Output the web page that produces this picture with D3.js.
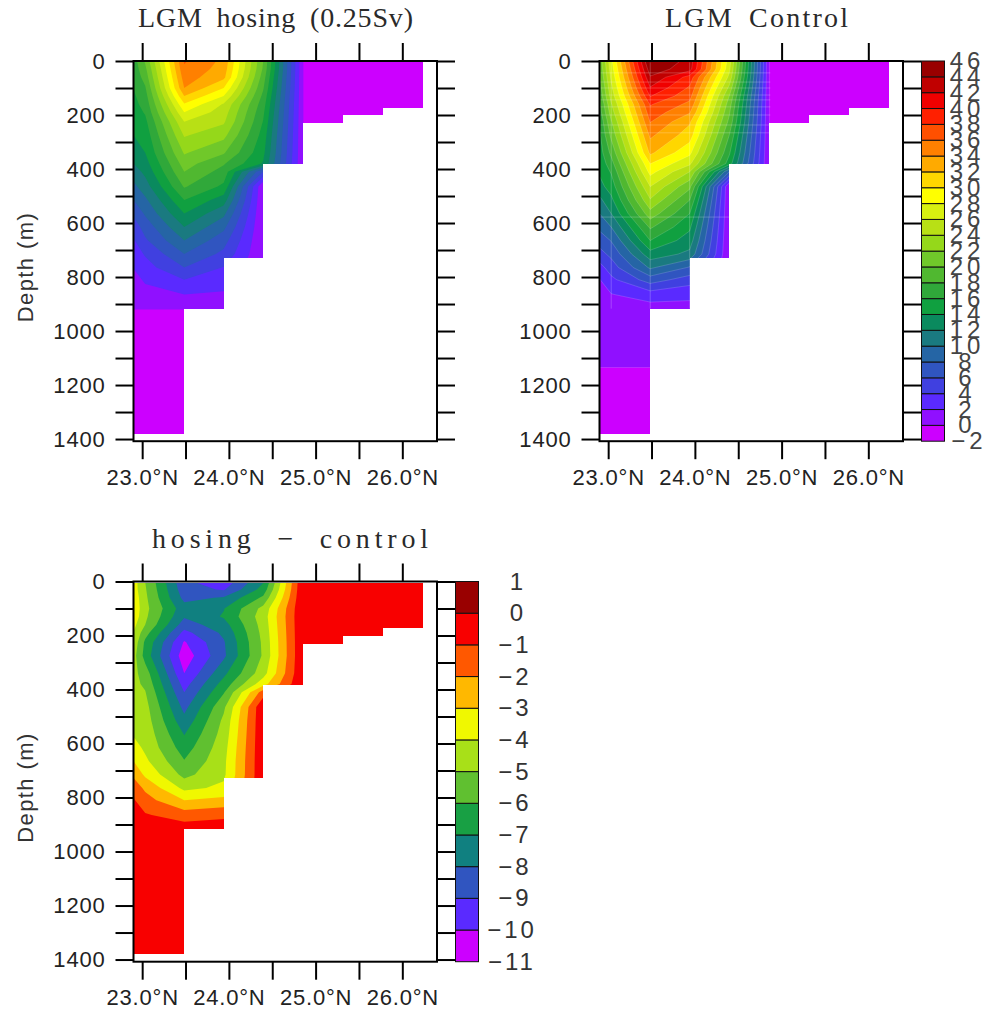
<!DOCTYPE html>
<html><head><meta charset="utf-8"><title>LGM hosing sections</title>
<script src="https://cdn.jsdelivr.net/npm/d3@7"></script>
<style>
html,body{margin:0;padding:0;background:#fff}
svg{display:block}
text{font-family:"Liberation Sans",sans-serif;fill:#222}
.title{font-family:"Liberation Serif",serif;font-size:28px;fill:#2a2a2a}
.lab{font-size:22px;letter-spacing:.8px}
.ylab{font-size:22px;letter-spacing:1.4px;fill:#333}
.cb{font-size:24px;letter-spacing:4px;fill:#444}
.cb3{font-size:24px;letter-spacing:3px;fill:#333}
</style></head><body><svg id="c" width="989" height="1017"></svg>
<script>
// grid nodes
const lonNodes=[22.9,23.035,23.485,23.94,24.396,24.858,24.87,26.4];
const depthNodes=[0,30,60,100,130,160,190,225,275,340,380,410,465,515,565,615,665,715,765,810,865,915,925,1130,1140,1410];
// ocean mask outline (lon edge, bottom depth of the column to its left)
const maskLon=[22.902,23.485,23.943,24.396,24.858,25.319,25.78,26.242];
const maskDepth=[1380,917,729,383,230,200,174];
const maskTop=5;
// LGM hosing: one array per longitude node
const hosing0=[17,16.8,16.5,16,15.7,15.4,15,14.5,14,13,12,11,9.5,8,6.3,5,3.8,3,2.05,1.5,1.2,1,-1,-1,-1,-1];
const hosing1=[20.3,19.5,18.8,17.8,17.2,16.7,16.2,15.5,14.8,14,13.2,12.5,11.1,9.6,8.3,6.8,5.7,4.2,3.2,2.2,1.5,1,-1,-1,-1,-1];
const hosing2=[36.2,35.7,35,34,32,29.8,28,26,24.2,22.2,20.9,20,18.2,16,14,12,10,8,6,4,2,1,-1,-1,-1,-1];
const hosing3=[33.5,33.1,32.5,30,28,25.8,25,24.3,22.6,20.2,18.2,17.2,15.6,13,10.5,8.5,6.8,5.5,3.9,3,1.7,1,1,-1,-1,-1];
const hosing4=[20,19.7,19,18.2,17.5,16.9,16.4,15.9,15.2,14.5,13.8,6,.1,.1,.1,.1,.1,.1,.1,.1,.1,.1,-1,-1,-1,-1];
const hosing5=[.1,.1,.1,.1,.1,.1,.1,.1,.1,.1,.1,.1,.1,.1,.1,.1,.1,.1,.1,.1,.1,.1,-1,-1,-1,-1];
const hosing6=depthNodes.map(()=>-1), hosing7=depthNodes.map(()=>-1);
// LGM control
const control0=[20.5,20.2,19.8,19,18.5,17.6,17,16.2,15.6,15,14.5,14.3,13.3,11.5,10,8.5,6.8,5.3,3.2,1.9,1.4,1.2,1.2,1,-1,-1];
const control1=[27.5,27,26.4,25.5,24.8,23.8,23,21.8,20.5,18.5,17.2,16.2,14.9,13.5,12,10,8.1,6.5,5,3.5,1.9,1.5,1.2,1,-1,-1];
const control2=[46.5,45.2,43.8,41.8,40.1,38.2,37.2,36.1,34.4,32.4,30.05,28.7,26,23.8,21.2,18.3,16,13.2,10.3,7,3,1.2,1.2,1,-1,-1];
const control3=[43.2,42.8,39.2,37.7,36.7,35.5,34.2,32.3,31,28.5,26.4,24,20.5,18,16,14.4,13,11.5,7.8,5,2.4,1.5,1.5,-1,-1,-1];
const control4=[27,26.5,25.5,23.5,22,21,20.3,19.5,18,16.3,15,8,.1,.1,.1,.1,.1,.1,.1,.1,.1,.1,-1,-1,-1,-1];
const control5=[.1,.1,.1,.1,.1,.1,.1,.1,.1,.1,.1,.1,.1,.1,.1,.1,.1,.1,.1,.1,.1,.1,-1,-1,-1,-1];
const control6=depthNodes.map(()=>-1), control7=depthNodes.map(()=>-1);
// hosing - control
const diff0=[-3.5,-3.5,-3.3,-3.2,-3.3,-3.7,-4.05,-4.3,-4.6,-4.7,-4.7,-4.6,-4.5,-4.4,-4.1,-3.6,-3,-2.2,-1.4,-.9,-.7,-.5,-.5,-.5,-.5,-.5];
const diff1=[-5,-4.9,-4.8,-4.7,-4.8,-5,-5.6,-6.2,-6.4,-5.5,-5.2,-4.95,-4.65,-4.5,-4.35,-4.2,-3.8,-3.2,-2.2,-1.6,-.9,-.5,-.5,-.5,-.5,-.5];
const diff2=[-8.8,-8.6,-8.3,-7.6,-7.9,-8.5,-9.3,-10.1,-10.6,-10,-9.4,-9,-8.3,-7.7,-7.05,-6.5,-5.95,-5.3,-4.25,-3,-1.5,-.5,-.5,-.5,-.5,-.5];
const diff3=[-9.7,-9.1,-7.9,-7.05,-6.9,-7.4,-7.8,-8.1,-8.2,-7.25,-6.6,-6.1,-5.2,-4.8,-4.6,-4.4,-4.25,-4.2,-3.8,-2.7,-1.2,-.5,-.5,-.5,-.5,-.5];
const diff4=[-7.1,-6.6,-5.8,-4.7,-4.5,-4.6,-4.7,-4.8,-4.85,-4.4,-3.4,-1.5,-.1,-.1,-.1,-.1,-.1,-.1,-.1,-.1,-.1,-.1,-.1,-.1,-.1,-.1];
const diff5=depthNodes.map(()=>0), diff6=depthNodes.map(()=>-.5), diff7=depthNodes.map(()=>-.5);
// levels and colours
const levelsMain=d3.range(-2,47,2);
const colorsMain=["#cc00ff","#9010ff","#5a2aff","#4040e0","#3055c0","#2565a5","#1a7a80","#0a8a5e","#10a040","#30a83a","#50b830","#70c82a","#95d81a","#b8e015","#d8f010","#ffff00","#ffd700","#ffaa00","#ff8000","#ff5000","#ff2000","#f00000","#c00000","#990000"];
const levelsDiff=d3.range(-11,2,1);
const colorsDiff=["#cc00ff","#5a2aff","#3055c0","#108080","#18a044","#60c030","#a8e018","#f0f800","#ffb800","#ff5800","#f80000","#990000"];
const lonTicks=d3.range(23,26.01,.5), lonLabels=[23,24,25,26];
const depthTicks=d3.range(0,1401,100);
const seamDepths=[44,78,100,126,144,170,200,237,266,578];
const seamLons=[23.035,23.485,23.94];
const titles=["LGM hosing (0.25Sv)","LGM Control","hosing \u2212 control"];

const svg=d3.select("#c");
const n=lonNodes.length,m=depthNodes.length;
function flat(cols){const v=[];for(let j=0;j<m;j++)for(let i=0;i<n;i++)v.push(cols[i][j]);return v;}
const fmtMinus=d=>String(d).replace("-","\u2212");
function panel(o){
  const W=303.5,H=380.2;
  const x=d3.scaleLinear().domain([22.9,26.4]).range([o.left,o.left+W]);
  const y=d3.scaleLinear().domain([0,1408]).range([o.top,o.top+H]);
  const g=svg.append("g");
  const fill=g.append("g");
  const xi=d3.scaleLinear().domain(d3.range(n)).range(lonNodes.map(x)).clamp(true);
  const yi=d3.scaleLinear().domain(d3.range(m)).range(depthNodes.map(y)).clamp(true);
  const path=d3.geoPath(d3.geoTransform({point(a,b){this.stream.point(xi(a-.5),yi(b-.5));}}));
  const th=o.levels.slice(0,-1);
  const cs=d3.contours().size([n,m]).thresholds(th)(flat(o.cols));
  fill.append("rect").attr("x",o.left).attr("y",o.top).attr("width",W).attr("height",H).attr("fill",o.colors[0]);
  fill.selectAll("path").data(cs).join("path").attr("d",path)
    .attr("fill",(d,i)=>o.colors[i])
    .attr("stroke",(d,i)=>o.seam&&i>0?"rgba(255,255,255,.22)":"none").attr("stroke-width",.7);
  if(o.seam){
    fill.selectAll("line.h").data(seamDepths).join("line").attr("class","h")
      .attr("x1",o.left).attr("x2",x(24.87)).attr("y1",d=>y(d)).attr("y2",d=>y(d)).attr("stroke","rgba(255,255,255,.22)");
    fill.selectAll("line.v").data(seamLons).join("line").attr("class","v")
      .attr("x1",d=>x(d)).attr("x2",d=>x(d)).attr("y1",y(5)).attr("y2",y(917)).attr("stroke","rgba(255,255,255,.22)");
  }
  // land mask: white cover over everything outside the ocean outline
  const pts=[[maskLon[0],maskTop],[maskLon[7],maskTop]];
  for(let k=6;k>=0;k--){pts.push([maskLon[k+1],maskDepth[k]]);pts.push([maskLon[k],maskDepth[k]]);}
  const ocean=d3.line().x(p=>Math.round(x(p[0]))).y(p=>Math.round(y(p[1])))(pts)+"Z";
  g.append("path").attr("d",`M${o.left-1},${o.top-1}H${o.left+W+1}V${o.top+H+1}H${o.left-1}Z`+ocean)
    .attr("fill","#fff").attr("fill-rule","evenodd").attr("shape-rendering","crispEdges");
  // axes
  const style=s=>{s.select(".domain").remove();s.selectAll(".tick line").attr("stroke","#000").attr("stroke-width",2);s.selectAll("text").attr("fill",null);};
  const lonFmt=d=>lonLabels.includes(d)?d.toFixed(1)+"\u00b0N":"";
  const dFmt=d=>d%200===0?d:"";
  g.append("g").attr("transform",`translate(0,${o.top+H})`).call(d3.axisBottom(x).tickValues(lonTicks).tickSize(18).tickPadding(10).tickFormat(lonFmt)).call(style).selectAll("text").attr("class","lab");
  g.append("g").attr("transform",`translate(0,${o.top})`).call(d3.axisTop(x).tickValues(lonTicks).tickSize(18).tickFormat("")).call(style);
  g.append("g").attr("transform",`translate(${o.left},0)`).call(d3.axisLeft(y).tickValues(depthTicks).tickSize(18).tickPadding(10).tickFormat(dFmt)).call(style).selectAll("text").attr("class","lab");
  g.append("g").attr("transform",`translate(${o.left+W},0)`).call(d3.axisRight(y).tickValues(depthTicks).tickSize(18).tickFormat("")).call(style);
  g.append("rect").attr("x",o.left).attr("y",o.top).attr("width",W).attr("height",H).attr("fill","none").attr("stroke","#000").attr("stroke-width",2);
  g.append("text").attr("class","title").attr("text-anchor","middle").attr("x",o.titleX).attr("y",o.top-34)
    .attr("textLength",o.titleLen).attr("lengthAdjust","spacing").attr("word-spacing",o.wordGap).text(o.title);
  if(o.ylabel) g.append("text").attr("class","ylab").attr("text-anchor","middle").attr("transform",`translate(33,${o.top+206}) rotate(-90)`).text("Depth (m)");
  if(o.cb){
    const cy=d3.scaleLinear().domain([o.levels[0],o.levels[o.levels.length-1]]).range([o.top+H,o.top]);
    const cbg=g.append("g");
    cbg.selectAll("rect").data(o.colors).join("rect").attr("x",o.cb.x).attr("width",o.cb.w)
      .attr("y",(d,i)=>cy(o.levels[i+1])).attr("height",(d,i)=>cy(o.levels[i])-cy(o.levels[i+1]))
      .attr("fill",d=>d).attr("stroke","#111").attr("stroke-width",1);
    cbg.selectAll("text").data(o.levels).join("text").attr("class",o.cb.cls).attr("text-anchor","middle").attr("x",o.cb.tx)
      .attr("y",d=>cy(d)+8).text(fmtMinus);
  }
}
panel({left:133.5,top:61,title:titles[0],titleX:275.5,titleLen:275,wordGap:6,ylabel:true,levels:levelsMain,colors:colorsMain,cols:[hosing0,hosing1,hosing2,hosing3,hosing4,hosing5,hosing6,hosing7]});
panel({left:599.5,top:61,title:titles[1],titleX:756.5,titleLen:183,wordGap:6,levels:levelsMain,colors:colorsMain,seam:true,cols:[control0,control1,control2,control3,control4,control5,control6,control7],
  cb:{x:921.5,w:23,tx:d=>d<0?969:967,cls:"cb"}});
panel({left:133.5,top:581.5,title:titles[2],titleX:290,titleLen:276,wordGap:10,ylabel:true,levels:levelsDiff,colors:colorsDiff,cols:[diff0,diff1,diff2,diff3,diff4,diff5,diff6,diff7],
  cb:{x:455.5,w:23,tx:d=>518-3*(String(d).length-1),cls:"cb3"}});
</script></body></html>
